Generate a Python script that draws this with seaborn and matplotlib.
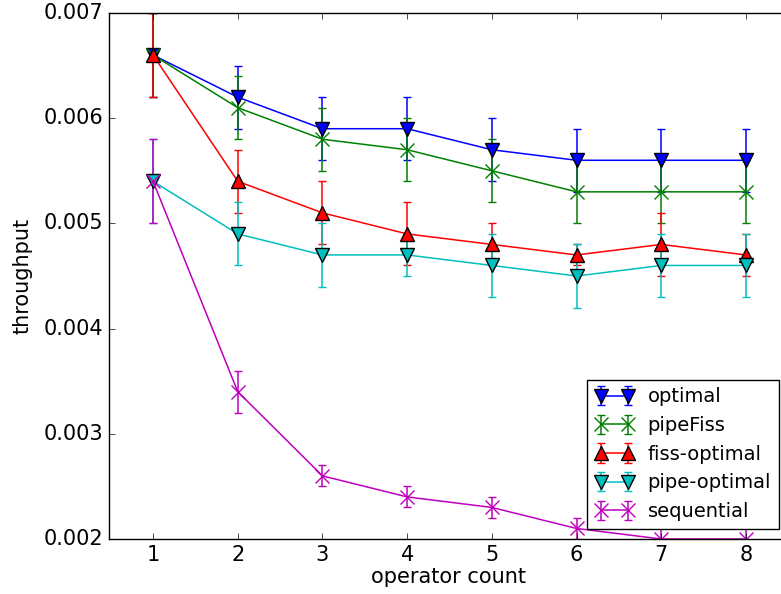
import matplotlib
matplotlib.use("Agg")
import matplotlib.pyplot as plt
import seaborn as sns
import numpy as np

operator_count = [1, 2, 3, 4, 5, 6, 7, 8]

optimal = [0.0066, 0.0062, 0.0059, 0.0059, 0.0057, 0.0056, 0.0056, 0.0056]
optimal_err = [0.0004, 0.0003, 0.0003, 0.0003, 0.0003, 0.0003, 0.0003, 0.0003]

pipefiss = [0.0066, 0.0061, 0.0058, 0.0057, 0.0055, 0.0053, 0.0053, 0.0053]
pipefiss_err = [0.0004, 0.0003, 0.0003, 0.0003, 0.0003, 0.0003, 0.0003, 0.0003]

fiss_optimal = [0.0066, 0.0054, 0.0051, 0.0049, 0.0048, 0.0047, 0.0048, 0.0047]
fiss_optimal_err = [0.0004, 0.0003, 0.0003, 0.0003, 0.0002, 0.0001, 0.0003, 0.0002]

pipe_optimal = [0.0054, 0.0049, 0.0047, 0.0047, 0.0046, 0.0045, 0.0046, 0.0046]
pipe_optimal_err = [0.0004, 0.0003, 0.0003, 0.0002, 0.0003, 0.0003, 0.0003, 0.0003]

sequential = [0.0054, 0.0034, 0.0026, 0.0024, 0.0023, 0.0021, 0.0020, 0.0020]
sequential_err = [0.0004, 0.0002, 0.0001, 0.0001, 0.0001, 0.0001, 0.0001, 0.0001]

series_labels = ["optimal", "pipeFiss", "fiss-optimal", "pipe-optimal", "sequential"]

sns.set_style("ticks")
plt.style.use("classic")
plt.rcParams["font.family"] = ["DejaVu Sans"]

fig = plt.figure(figsize=(7.81, 5.94), dpi=100)
ax = fig.add_axes([109 / 781, 55 / 594, 679.4 / 781, 526 / 594])

specs = [
    (optimal, optimal_err, "b", "v"),
    (pipefiss, pipefiss_err, "g", "x"),
    (fiss_optimal, fiss_optimal_err, "r", "^"),
    (pipe_optimal, pipe_optimal_err, "c", "v"),
    (sequential, sequential_err, "m", "x"),
]
for (vals, errs, col, mk), lab in zip(specs, series_labels):
    ec = "k" if mk in ("v", "^") else col
    ax.errorbar(operator_count, vals, yerr=errs, color=col, marker=mk,
                markersize=9.5, markeredgecolor=ec, markeredgewidth=1,
                capsize=3, elinewidth=1.1, linewidth=1.1, label=lab)

ax.set_xlim(0.48, 8.5)
ax.set_ylim(0.002, 0.007)
ax.set_xticks(operator_count)
ax.set_yticks([0.002, 0.003, 0.004, 0.005, 0.006, 0.007])
ax.set_yticklabels(["0.002", "0.003", "0.004", "0.005", "0.006", "0.007"])
ax.tick_params(labelsize=15, direction="in", length=4, top=True, right=True)
ax.set_xlabel("operator count", fontsize=15, labelpad=2)
ax.set_ylabel("throughput", fontsize=15, labelpad=8)

leg = ax.legend(loc="lower right", bbox_to_anchor=(779 / 781, (594 - 529) / 594),
                bbox_transform=fig.transFigure, numpoints=2, fontsize=14,
                borderaxespad=0.0, handlelength=2.0, labelspacing=0.5,
                borderpad=0.4, handletextpad=0.7, fancybox=False)
leg.set_zorder(10)

fig.savefig("out.png", dpi=100)
